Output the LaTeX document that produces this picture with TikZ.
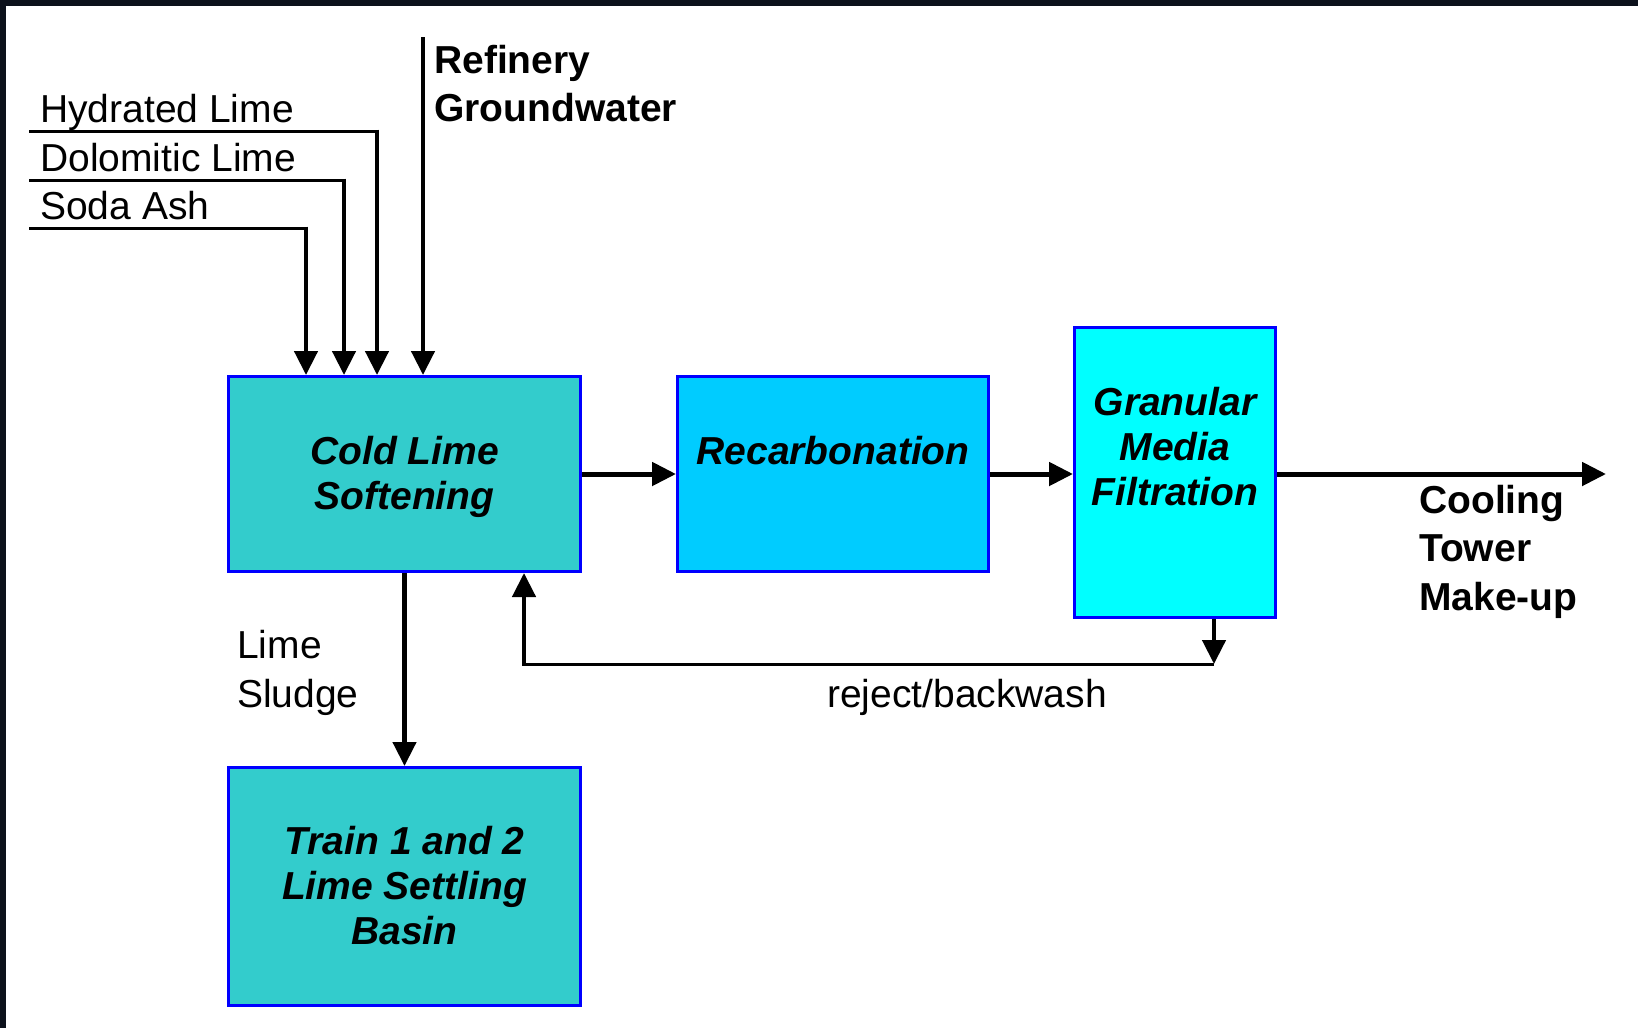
\documentclass[tikz,border=0pt]{standalone}
\usepackage{fontspec}
\setmainfont{Liberation Sans}
\usetikzlibrary{arrows.meta}
\definecolor{clsfill}{HTML}{33CCCC}
\definecolor{recfill}{HTML}{00CCFF}
\definecolor{gmffill}{HTML}{00FFFF}
\definecolor{boxblue}{HTML}{0000FF}
\definecolor{framedark}{HTML}{0C111B}
\newcommand\lblfont{\fontsize{39}{49}\selectfont}
\newcommand\blblfont{\fontsize{39}{48.5}\selectfont\bfseries}
\newcommand\boxfont{\fontsize{39}{45}\selectfont\bfseries\itshape}
\newcommand\leftlines[1]{\begin{tabular}[t]{@{}l@{}}#1\end{tabular}}
\newcommand\boxlines[1]{\begin{tabular}{@{}c@{}}#1\end{tabular}}
\begin{document}
\begin{tikzpicture}[x=1pt,y=-1pt,
  procbox/.style={draw=boxblue, line width=3pt, inner sep=0pt},
  boxtext/.style={inner sep=0pt, font=\boxfont},
  arr/.style={line width=4.5pt, -{Triangle[length=24pt,width=23pt]}},
  mainarr/.style={line width=5pt, -{Triangle[length=24pt,width=23pt]}},
  thinline/.style={line width=3pt},
  lbl/.style={anchor=base west, inner sep=0pt, font=\lblfont},
  blbl/.style={anchor=base west, inner sep=0pt, font=\blblfont}]
\useasboundingbox (0,0) rectangle (1638,1028);
\fill[white] (0,0) rectangle (1638,1028);
\fill[framedark] (0,0) rectangle (1638,6);
\fill[framedark] (0,0) rectangle (6,1028);

% process boxes
\node[procbox, fill=clsfill, minimum width=352pt, minimum height=195pt] (cls) at (404.5,474) {};
\node[boxtext] (clstext) at ([yshift=-4pt]cls.center) {\boxlines{Cold Lime\\Softening}};
\node[procbox, fill=recfill, minimum width=311pt, minimum height=195pt] (rec) at (833,474) {};
\node[boxtext] (rectext) at ([yshift=19pt]rec.center) {\boxlines{Recarbonation}};
\node[procbox, fill=gmffill, minimum width=201pt, minimum height=290pt] (gmf) at (1175,472.5) {};
\node[boxtext] (gmftext) at ([yshift=21pt]gmf.center) {\boxlines{Granular\\Media\\Filtration}};
\node[procbox, fill=clsfill, minimum width=352pt, minimum height=238pt] (train) at (404.5,886.5) {};
\node[boxtext] (traintext) at ([yshift=-4pt]train.center) {\boxlines{Train 1 and 2\\Lime Settling\\Basin}};

% feed lines
\coordinate (hyd) at (29,131);
\coordinate (dol) at (29,180);
\coordinate (soda) at (29,228);
\coordinate (ref) at (423,37);
\coordinate (hx) at ([xshift=-27.5pt]cls.north);
\coordinate (dx) at ([xshift=-60.5pt]cls.north);
\coordinate (sx) at ([xshift=-98.5pt]cls.north);
\draw[thinline] (hyd) -- ([xshift=1.5pt]hx |- hyd);
\draw[arr] ([yshift=1.5pt]hx |- hyd) -- (hx);
\draw[thinline] (dol) -- ([xshift=1.5pt]dx |- dol);
\draw[arr] ([yshift=1.5pt]dx |- dol) -- (dx);
\draw[thinline] (soda) -- ([xshift=1.5pt]sx |- soda);
\draw[arr] ([yshift=1.5pt]sx |- soda) -- (sx);
\draw[arr] (ref) -- (ref |- cls.north);

% main flow
\coordinate (out) at (1606,474);
\draw[mainarr] (cls.east) -- (rec.west);
\draw[mainarr] (rec.east) -- (rec.east -| gmf.west);
\draw[mainarr] (gmf.east |- out) -- (out);
\draw[arr] (cls.south) -- (train.north);

% reject / backwash
\coordinate (rjtop) at ([xshift=39pt]gmf.south);
\coordinate (rj) at (1214,664);
\coordinate (rjin) at ([xshift=119.5pt]cls.south);
\draw[arr] (rjtop) -- (rj);
\draw[thinline] (rj) -- ([xshift=-2.25pt]rjin |- rj);
\draw[arr] ([yshift=-1.5pt]rjin |- rj) -- (rjin);

% labels
\node[lbl] (lhyd) at (40,122) {Hydrated Lime};
\node[lbl] (ldol) at (40,171) {Dolomitic Lime};
\node[lbl] (lsoda) at (40,219) {Soda Ash};
\node[blbl] (lref) at (434,73) {\leftlines{Refinery\\Groundwater}};
\node[lbl] (lsludge) at (237,658) {\leftlines{Lime\\Sludge}};
\node[lbl] (lrej) at (827,707) {reject/backwash};
\node[blbl] (lcool) at (1419,513) {\leftlines{Cooling\\Tower\\Make-up}};
\end{tikzpicture}
\end{document}
